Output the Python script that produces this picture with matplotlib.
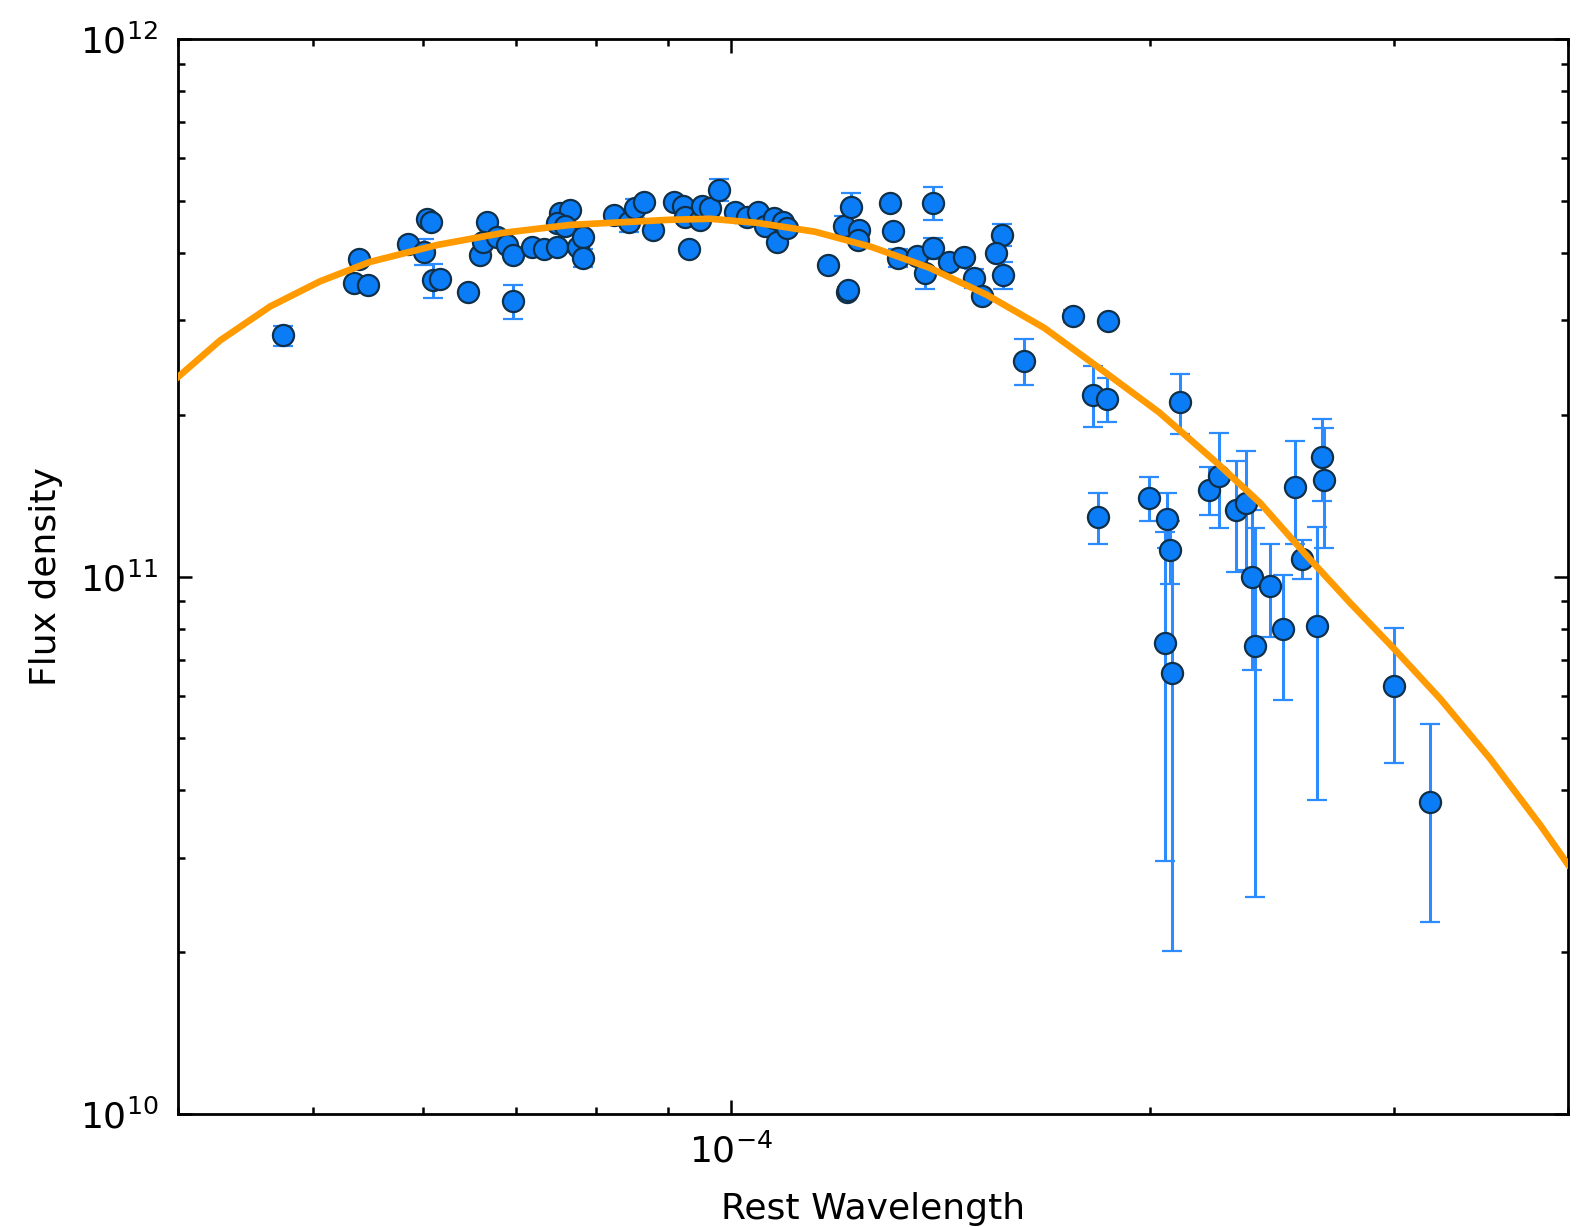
import numpy as np
import matplotlib
matplotlib.use("Agg")
import matplotlib.pyplot as plt
from matplotlib.ticker import LogLocator, LogFormatterMathtext, NullFormatter

# measured SED points: rest wavelength, flux density and 1-sigma errors
wavelength = np.array([
    4.76e-5, 5.40e-5, 5.35e-5, 5.48e-5, 5.86e-5, 6.01e-5, 6.04e-5, 6.08e-5, 6.10e-5, 6.17e-5,
    6.47e-5, 6.67e-5, 6.60e-5, 6.63e-5, 6.78e-5, 6.90e-5, 6.97e-5, 6.97e-5, 7.19e-5, 7.33e-5,
    7.49e-5, 7.53e-5, 7.66e-5, 7.49e-5, 7.60e-5, 7.76e-5, 7.83e-5, 7.83e-5, 8.23e-5, 8.44e-5,
    8.53e-5, 8.65e-5, 8.79e-5, 9.09e-5, 9.24e-5, 9.27e-5, 9.33e-5, 9.50e-5, 9.53e-5, 9.66e-5,
    9.80e-5, 1.007e-4, 1.026e-4, 1.046e-4, 1.058e-4, 1.073e-4, 1.079e-4, 1.090e-4, 1.097e-4, 1.175e-4,
    1.206e-4, 1.219e-4, 1.211e-4, 1.214e-4, 1.235e-4, 1.233e-4, 1.300e-4, 1.308e-4, 1.319e-4, 1.360e-4,
    1.379e-4, 1.398e-4, 1.398e-4, 1.434e-4, 1.470e-4, 1.494e-4, 1.515e-4, 1.566e-4, 1.551e-4, 1.569e-4,
    1.623e-4, 1.762e-4, 1.868e-4, 1.821e-4, 1.863e-4, 2.104e-4, 1.835e-4, 1.999e-4, 2.059e-4, 2.067e-4,
    2.052e-4, 2.075e-4, 2.208e-4, 2.242e-4, 2.308e-4, 2.346e-4, 2.371e-4, 2.380e-4, 2.442e-4, 2.496e-4,
    2.546e-4, 2.574e-4, 2.641e-4, 2.663e-4, 2.670e-4, 3.00e-4, 3.18e-4,
])
flux = np.array([
    2.81e11, 3.89e11, 3.51e11, 3.49e11, 4.16e11, 4.02e11, 4.62e11, 4.56e11, 3.56e11, 3.58e11,
    3.39e11, 4.57e11, 3.96e11, 4.20e11, 4.29e11, 4.14e11, 3.96e11, 3.25e11, 4.11e11, 4.07e11,
    4.11e11, 4.74e11, 4.81e11, 4.54e11, 4.48e11, 4.11e11, 4.29e11, 3.91e11, 4.71e11, 4.57e11,
    4.84e11, 4.98e11, 4.41e11, 4.98e11, 4.88e11, 4.67e11, 4.07e11, 4.61e11, 4.88e11, 4.84e11,
    5.24e11, 4.77e11, 4.67e11, 4.77e11, 4.48e11, 4.64e11, 4.20e11, 4.57e11, 4.45e11, 3.80e11,
    4.49e11, 4.86e11, 3.39e11, 3.41e11, 4.41e11, 4.23e11, 4.95e11, 4.40e11, 3.91e11, 3.94e11,
    3.67e11, 4.95e11, 4.08e11, 3.85e11, 3.93e11, 3.59e11, 3.33e11, 4.32e11, 3.99e11, 3.64e11,
    2.52e11, 3.05e11, 2.99e11, 2.18e11, 2.14e11, 2.11e11, 1.29e11, 1.40e11, 1.28e11, 1.12e11,
    7.52e10, 6.62e10, 1.45e11, 1.54e11, 1.33e11, 1.37e11, 1.00e11, 7.43e10, 9.61e10, 7.98e10,
    1.47e11, 1.08e11, 8.10e10, 1.67e11, 1.51e11, 6.25e10, 3.80e10,
])
flux_err = np.array([
    0.12e11, 0.05e11, 0.05e11, 0.05e11, 0.08e11, 0.23e11, 0.06e11, 0.06e11, 0.26e11, 0.06e11,
    0.05e11, 0.06e11, 0.05e11, 0.10e11, 0.06e11, 0.06e11, 0.05e11, 0.24e11, 0.05e11, 0.05e11,
    0.05e11, 0.06e11, 0.06e11, 0.06e11, 0.06e11, 0.05e11, 0.06e11, 0.15e11, 0.07e11, 0.20e11,
    0.20e11, 0.07e11, 0.06e11, 0.07e11, 0.06e11, 0.07e11, 0.05e11, 0.06e11, 0.07e11, 0.07e11,
    0.25e11, 0.06e11, 0.06e11, 0.06e11, 0.06e11, 0.06e11, 0.06e11, 0.06e11, 0.06e11, 0.05e11,
    0.20e11, 0.30e11, 0.06e11, 0.05e11, 0.06e11, 0.06e11, 0.06e11, 0.06e11, 0.15e11, 0.06e11,
    0.25e11, 0.35e11, 0.18e11, 0.05e11, 0.05e11, 0.15e11, 0.05e11, 0.20e11, 0.06e11, 0.21e11,
    0.25e11, 0.08e11, 0.05e11, 0.28e11, 0.20e11, 0.27e11, 0.14e11, 0.13e11, 0.15e11, 0.15e11,
    4.56e10, 4.61e10, 0.15e11, 0.31e11, 0.31e11, 0.34e11, 0.33e11, 4.90e10, 0.19e11, 0.21e11,
    0.32e11, 0.09e11, 4.26e10, 0.29e11, 0.38e11, 0.176e11, 0.152e11,
])

# best-fit greybody model sampled along the wavelength range
model_wavelength = np.array([
    4.00e-5, 4.29e-5, 4.66e-5, 5.06e-5, 5.50e-5, 6.15e-5, 6.86e-5, 7.66e-5, 9.04e-5, 9.66e-5,
    1.044e-4, 1.149e-4, 1.263e-4, 1.390e-4, 1.528e-4, 1.680e-4, 1.849e-4, 2.032e-4, 2.234e-4, 2.402e-4,
    2.597e-4, 2.788e-4, 2.995e-4, 3.237e-4, 3.516e-4, 3.819e-4, 4.00e-4,
])
model_flux = np.array([
    2.35e11, 2.75e11, 3.18e11, 3.54e11, 3.85e11, 4.14e11, 4.36e11, 4.51e11, 4.61e11, 4.63e11,
    4.55e11, 4.38e11, 4.10e11, 3.75e11, 3.34e11, 2.90e11, 2.42e11, 2.02e11, 1.63e11, 1.37e11,
    1.09e11, 8.93e10, 7.36e10, 5.92e10, 4.58e10, 3.45e10, 2.91e10,
])

plt.rcParams["font.family"] = ["DejaVu Sans"]
plt.rcParams["mathtext.default"] = "regular"
plt.rcParams["font.size"] = 12

fig = plt.figure(figsize=(7.93, 6.135), dpi=200)
ax = fig.add_axes([0.1122, 0.0921, 0.8765, 0.8761])

ax.errorbar(wavelength, flux, yerr=flux_err, fmt="o", color="#0a7cf6",
            markeredgecolor="#10304a", markeredgewidth=0.8, markersize=7.6,
            ecolor="#2c8cff", elinewidth=1.1, capsize=3.6, capthick=1.1, zorder=2)
ax.plot(model_wavelength, model_flux, color="#ff9a00", linewidth=2.4, zorder=3)

ax.set_xscale("log")
ax.set_yscale("log")
ax.set_xlim(4e-5, 4e-4)
ax.set_ylim(1e10, 1e12)

ax.xaxis.set_major_locator(LogLocator(base=10))
ax.xaxis.set_minor_locator(LogLocator(base=10, subs=np.arange(2, 10)))
ax.xaxis.set_minor_formatter(NullFormatter())
ax.yaxis.set_major_formatter(LogFormatterMathtext())
ax.yaxis.set_minor_formatter(NullFormatter())

ax.tick_params(which="both", direction="in", top=True, right=True, width=0.9)
ax.tick_params(which="major", length=5, pad=7, labelsize=13)
ax.tick_params(which="minor", length=2.5)
for spine in ax.spines.values():
    spine.set_linewidth(1.0)

ax.set_xlabel("Rest Wavelength", fontsize=13, labelpad=8)
ax.set_ylabel("Flux density", fontsize=13, labelpad=6)

fig.savefig("out.png", dpi=200, facecolor="white")
